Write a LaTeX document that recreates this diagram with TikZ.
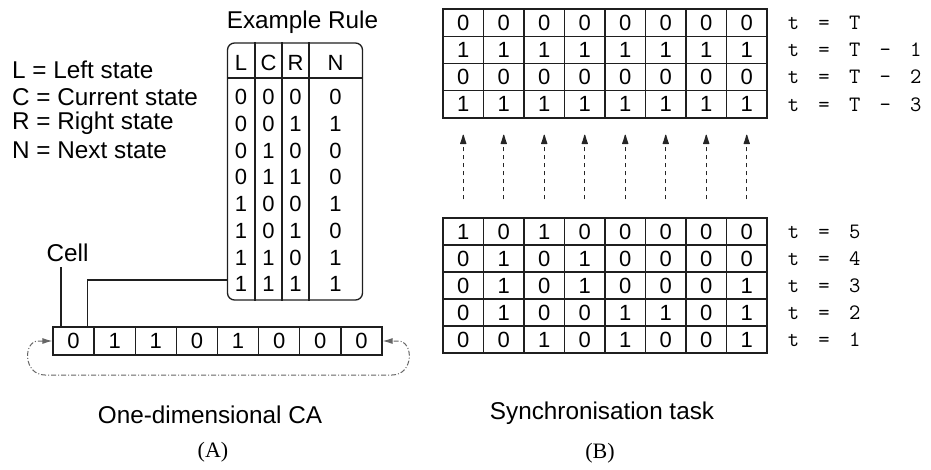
\documentclass[tikz,border=0pt]{standalone}
\usepackage{fontspec}
\setmainfont{Liberation Sans}
\newfontfamily\capfont{Liberation Serif}
\newfontfamily\tfont[WordSpace=1.7]{Latin Modern Mono}
\usetikzlibrary{arrows.meta}

\tikzset{
  ink/.style={draw=black!88, line width=1.3pt},
  gcell/.style={ink, minimum width=40.5pt, minimum height=27.25pt, inner sep=0pt,
    font=\fontsize{22}{22}\selectfont},
  bcell/.style={gcell, minimum height=27pt},
  cacell/.style={ink, minimum width=41.125pt, minimum height=28pt, inner sep=0pt,
    font=\fontsize{22}{22}\selectfont},
  rdig/.style={inner sep=0pt, font=\fontsize{22}{22}\selectfont},
  tlab/.style={anchor=west, inner sep=0pt, font=\tfont\fontsize{22}{22}\selectfont},
  lbl/.style={inner sep=0pt, font=\fontsize{24.3}{26}\selectfont},
  legend/.style={lbl, anchor=west},
  caption/.style={inner sep=0pt, font=\capfont\fontsize{22}{24}\selectfont},
  upflow/.style={draw=black!85, line width=1.2pt, dash pattern=on 4pt off 4pt,
    -{Latex[round, length=12pt, width=7pt]},
    shorten <=18pt, shorten >=16pt},
  wrap/.style={draw=black!60, line width=1pt, dash pattern=on 5pt off 2pt on 1pt off 2pt,
    {Latex[length=10pt,width=6pt]}-{Latex[length=10pt,width=6pt]}},
}

\begin{document}
\begin{tikzpicture}[x=1pt,y=-1pt]
\useasboundingbox (0,0) rectangle (931,469);

% ---------- (A) one-dimensional cellular automaton ----------
\node[legend] (legL) at (12,70)  {L = Left state};
\node[legend] (legC) at (12,97)  {C = Current state};
\node[legend] (legR) at (12,123) {R = Right state};
\node[legend] (legN) at (12,150) {N = Next state};

% rule table frame
\node[lbl] (title) at (302.5,22) {Example Rule};
\node[ink, rounded corners=7pt, minimum width=135pt, minimum height=257pt, inner sep=0pt]
  (rule) at (295,171.5) {};
\coordinate (hd) at (0,78);
\draw[ink] (rule.west |- hd) -- (rule.east |- hd);
\foreach \dx in {28,55,82}
  \draw[ink] ([xshift=\dx pt]rule.north west) -- ([xshift=\dx pt]rule.south west);

% header and entries
\foreach \h/\x in {L/241,C/268.5,R/295.5,N/335.5}
  \node[rdig] (h-\h) at (\x,63) {\h};
\foreach \a/\b/\c/\n [count=\i] in {0/0/0/0,0/0/1/1,0/1/0/0,0/1/1/0,1/0/0/1,1/0/1/0,1/1/0/1,1/1/1/1}{
  \pgfmathsetmacro{\yy}{97+26.75*(\i-1)}
  \node[rdig] (r-\i-L) at (241,\yy) {\a};
  \node[rdig] (r-\i-C) at (268.5,\yy) {\b};
  \node[rdig] (r-\i-R) at (295.5,\yy) {\c};
  \node[rdig] (r-\i-N) at (335.5,\yy) {\n};
}

% the row of cells
\foreach \v [count=\c] in {0,1,1,0,1,0,0,0}
  \node[cacell] (ca-\c) at ({53+41.125*(\c-0.5)},341) {\v};

% cell pointer and link to the rule
\node[lbl] (cell) at (67.5,253) {Cell};
\coordinate (cellpin) at (61,267);
\draw[ink] (cellpin) -- (cellpin |- ca-1.north);
\coordinate (lk) at (0,280);
\draw[ink] ([xshift=35pt]ca-1.north west) |- (rule.west |- lk);

% periodic boundary
\draw[wrap] (ca-1.west) -- ++(-14,0) .. controls (23,341) and (23,375) .. (45,375)
  -- (392,375) .. controls (414,375) and (414,341) .. (398,341) -- (ca-8.east);

\node[lbl] (capA) at (210,415) {One-dimensional CA};
\node[caption] (labA) at (213,452) {(A)};

% ---------- (B) synchronisation task ----------
\foreach \r/\vals/\lab in {
    1/{0,0,0,0,0,0,0,0}/{t = T},
    2/{1,1,1,1,1,1,1,1}/{t = T - 1},
    3/{0,0,0,0,0,0,0,0}/{t = T - 2},
    4/{1,1,1,1,1,1,1,1}/{t = T - 3}}{
  \foreach \v [count=\c] in \vals
    \node[gcell] (top-\r-\c) at ({443+40.5*(\c-0.5)},{9+27.25*(\r-0.5)}) {\v};
  \node[tlab] (tt-\r) at ([xshift=20pt]top-\r-8.east) {\lab};
}

\foreach \r/\vals/\lab in {
    1/{1,0,1,0,0,0,0,0}/{t = 5},
    2/{0,1,0,1,0,0,0,0}/{t = 4},
    3/{0,1,0,1,0,0,0,1}/{t = 3},
    4/{0,1,0,0,1,1,0,1}/{t = 2},
    5/{0,0,1,0,1,0,0,1}/{t = 1}}{
  \foreach \v [count=\c] in \vals
    \node[bcell] (bot-\r-\c) at ({443+40.5*(\c-0.5)},{218+27*(\r-0.5)}) {\v};
  \node[tlab] (tb-\r) at ([xshift=20pt]bot-\r-8.east) {\lab};
}

% time runs upwards
\foreach \c in {1,...,8}
  \draw[upflow] (bot-1-\c.north) -- (top-4-\c.south);

\node[lbl] (capB) at (602,413) {Synchronisation task};
\node[caption] (labB) at (600,453) {(B)};
\end{tikzpicture}
\end{document}
